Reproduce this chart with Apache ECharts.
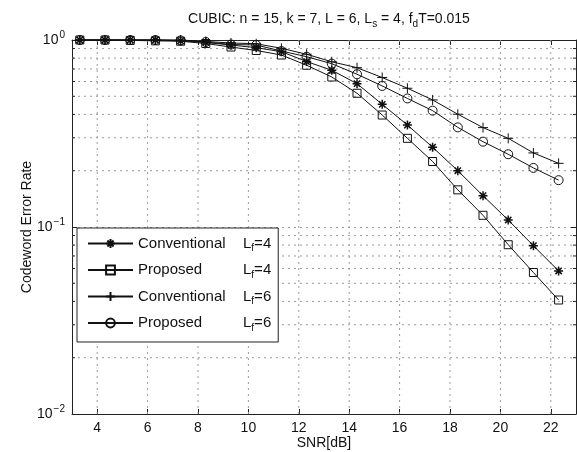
<!DOCTYPE html>
<html>
<head>
<meta charset="utf-8">
<script src="https://cdn.jsdelivr.net/npm/echarts@6/dist/echarts.min.js"></script>
<style>html,body{margin:0;padding:0;background:#fff}#c{width:577px;height:452px}</style>
</head>
<body>
<div id="c"></div>
<script>
// ---- data ----
const snr = [3.31, 4.31, 5.31, 6.31, 7.31, 8.31, 9.31, 10.31, 11.31, 12.31,
             13.31, 14.31, 15.31, 16.31, 17.31, 18.31, 19.31, 20.31, 21.31, 22.31];
const convLf4 = [1.0, 1.0, 1.0, 1.0, 0.99, 0.97, 0.94, 0.91, 0.866, 0.767,
                 0.689, 0.584, 0.453, 0.351, 0.267, 0.200, 0.147, 0.109, 0.0794, 0.0582];
const propLf4 = [1.0, 1.0, 0.995, 0.99, 0.985, 0.958, 0.917, 0.879, 0.831, 0.733,
                 0.634, 0.519, 0.397, 0.298, 0.224, 0.158, 0.1155, 0.0804, 0.0571, 0.0407];
const convLf6 = [1.0, 1.0, 1.0, 1.0, 1.0, 0.982, 0.964, 0.955, 0.903, 0.839,
                 0.765, 0.711, 0.630, 0.552, 0.478, 0.401, 0.340, 0.298, 0.249, 0.219];
const propLf6 = [1.0, 1.0, 1.0, 1.0, 0.995, 0.976, 0.946, 0.94, 0.873, 0.814,
                 0.747, 0.656, 0.568, 0.487, 0.419, 0.341, 0.286, 0.245, 0.207, 0.178];
const methods = ['Conventional', 'Proposed', 'Conventional', 'Proposed'];
const lfValues = ['4', '4', '6', '6'];
const xTicks = [4, 6, 8, 10, 12, 14, 16, 18, 20, 22];
const yMinorTicks = [0.02, 0.03, 0.04, 0.05, 0.06, 0.07, 0.08, 0.09,
                     0.2, 0.3, 0.4, 0.5, 0.6, 0.7, 0.8, 0.9];
const X_MIN = 3, X_MAX = 23, Y_MIN = 0.01, Y_MAX = 1;

// ---- chart ----
const FONT = 'Liberation Sans';
const names = methods.map((m, i) => m + ' Lf=' + lfValues[i]);
const seriesData = [convLf4, propLf4, convLf6, propLf6];
const symbols = [
  'path://M0,-1L0,1M-1,0L1,0M-0.7,-0.7L0.7,0.7M-0.7,0.7L0.7,-0.7',
  'rect',
  'path://M0,-1L0,1M-1,0L1,0',
  'circle'
];
const symbolSizes = [9, 8, 10, 9];
const gridStroke = '#9a9a9a';
const gridDash = [2, 4];

const lineSeries = seriesData.map((vals, i) => ({
  name: names[i],
  type: 'line',
  data: snr.map((x, j) => [x, vals[j]]),
  symbol: symbols[i],
  symbolSize: symbolSizes[i],
  showAllSymbol: true,
  clip: false,
  z: 5,
  lineStyle: { color: '#111', width: 1 },
  itemStyle: { color: 'rgba(0,0,0,0)', borderColor: '#111', borderWidth: i === 0 ? 1.5 : 1 },
  emphasis: { disabled: true }
}));

const yGridSeries = {
  type: 'custom',
  silent: true,
  z: 1,
  data: yMinorTicks.map(v => [v]),
  renderItem: function (params, api) {
    const v = api.value(0);
    const p1 = api.coord([X_MIN, v]);
    const p2 = api.coord([X_MAX, v]);
    return {
      type: 'group',
      children: [
        { type: 'line', shape: { x1: p1[0], y1: p1[1], x2: p2[0], y2: p2[1] },
          style: { stroke: gridStroke, lineDash: gridDash, lineWidth: 1 } },
        { type: 'line', shape: { x1: p1[0], y1: p1[1], x2: p1[0] + 3, y2: p1[1] },
          style: { stroke: '#222', lineWidth: 1 } },
        { type: 'line', shape: { x1: p2[0], y1: p2[1], x2: p2[0] - 3, y2: p2[1] },
          style: { stroke: '#222', lineWidth: 1 } }
      ]
    };
  }
};
const xGridSeries = {
  type: 'custom',
  silent: true,
  z: 1,
  data: xTicks.map(v => [v]),
  renderItem: function (params, api) {
    const v = api.value(0);
    const p1 = api.coord([v, Y_MIN]);
    const p2 = api.coord([v, Y_MAX]);
    return { type: 'line', shape: { x1: p1[0], y1: p1[1], x2: p2[0], y2: p2[1] },
             style: { stroke: gridStroke, lineDash: gridDash, lineWidth: 1 } };
  }
};

const axisLineStyle = { color: '#222', width: 1 };
const chart = echarts.init(document.getElementById('c'), null, { renderer: 'canvas' });
chart.setOption({
  animation: false,
  backgroundColor: '#fff',
  textStyle: { fontFamily: FONT },
  title: {
    text: '{t|CUBIC: n = 15, k = 7, L = 6, L}{s|s}{t| = 4, f}{s|d}{t|T=0.015}',
    left: 324, top: 4, textAlign: 'center',
    textStyle: {
      fontWeight: 'normal',
      rich: {
        t: { fontSize: 14, fontFamily: FONT, color: '#111', fontWeight: 'normal' },
        s: { fontSize: 10, fontFamily: FONT, color: '#111', fontWeight: 'normal', padding: [10, 0, 0, 0] }
      }
    }
  },
  grid: { left: 72, right: 1, top: 40, bottom: 38, outerBoundsMode: 'none', containLabel: false },
  legend: {
    orient: 'vertical',
    left: 77, top: 228,
    padding: [8, 7, 9, 10],
    itemGap: 9,
    itemWidth: 45, itemHeight: 11,
    backgroundColor: '#fff',
    borderColor: '#222', borderWidth: 1,
    borderRadius: 0,
    selectedMode: false,
    data: names,
    formatter: function (name) {
      const i = names.indexOf(name);
      return '{m|' + methods[i] + '}{l|L}{s|f}{l|=' + lfValues[i] + '}';
    },
    textStyle: {
      rich: {
        m: { fontSize: 15, fontFamily: FONT, color: '#111', width: 105 },
        l: { fontSize: 15, fontFamily: FONT, color: '#111' },
        s: { fontSize: 10, fontFamily: FONT, color: '#111', padding: [10, 0, 0, 0] }
      }
    }
  },
  xAxis: [{
    type: 'value', min: X_MIN, max: X_MAX, position: 'bottom',
    name: 'SNR[dB]', nameLocation: 'middle', nameGap: 22, nameMoveOverlap: false,
    nameTextStyle: { fontSize: 14, fontFamily: FONT, color: '#111' },
    axisLine: { show: true, lineStyle: axisLineStyle },
    axisTick: { show: true, inside: true, length: 5, customValues: xTicks, lineStyle: axisLineStyle },
    axisLabel: { show: true, customValues: xTicks, fontSize: 14, fontFamily: FONT, color: '#111', margin: 7 },
    splitLine: { show: false }
  }, {
    type: 'value', min: X_MIN, max: X_MAX, position: 'top',
    axisLine: { show: true, lineStyle: axisLineStyle },
    axisTick: { show: true, inside: true, length: 5, customValues: xTicks, lineStyle: axisLineStyle },
    axisLabel: { show: false },
    splitLine: { show: false }
  }],
  yAxis: [{
    type: 'log', logBase: 10, min: Y_MIN, max: Y_MAX, interval: 1, position: 'left',
    name: 'Codeword Error Rate', nameLocation: 'middle', nameGap: 38, nameMoveOverlap: false,
    nameTextStyle: { fontSize: 14, fontFamily: FONT, color: '#111' },
    axisLine: { show: true, lineStyle: axisLineStyle },
    axisTick: { show: true, inside: true, length: 5, lineStyle: axisLineStyle },
    axisLabel: {
      show: true, margin: 7,
      formatter: function (v) {
        const e = Math.round(Math.log10(v));
        return '{b|10}{p|' + (e < 0 ? '\u2212' + (-e) : e) + '}';
      },
      rich: {
        b: { fontSize: 14, fontFamily: FONT, color: '#111' },
        p: { fontSize: 10, fontFamily: FONT, color: '#111', padding: [0, 0, 10, 1] }
      }
    },
    splitLine: { show: true, lineStyle: { color: gridStroke, type: gridDash, width: 1 } }
  }, {
    type: 'log', logBase: 10, min: Y_MIN, max: Y_MAX, interval: 1, position: 'right',
    axisLine: { show: true, lineStyle: axisLineStyle },
    axisTick: { show: true, inside: true, length: 5, lineStyle: axisLineStyle },
    axisLabel: { show: false },
    splitLine: { show: false }
  }],
  series: [xGridSeries, yGridSeries].concat(lineSeries)
});
</script>
</body>
</html>
